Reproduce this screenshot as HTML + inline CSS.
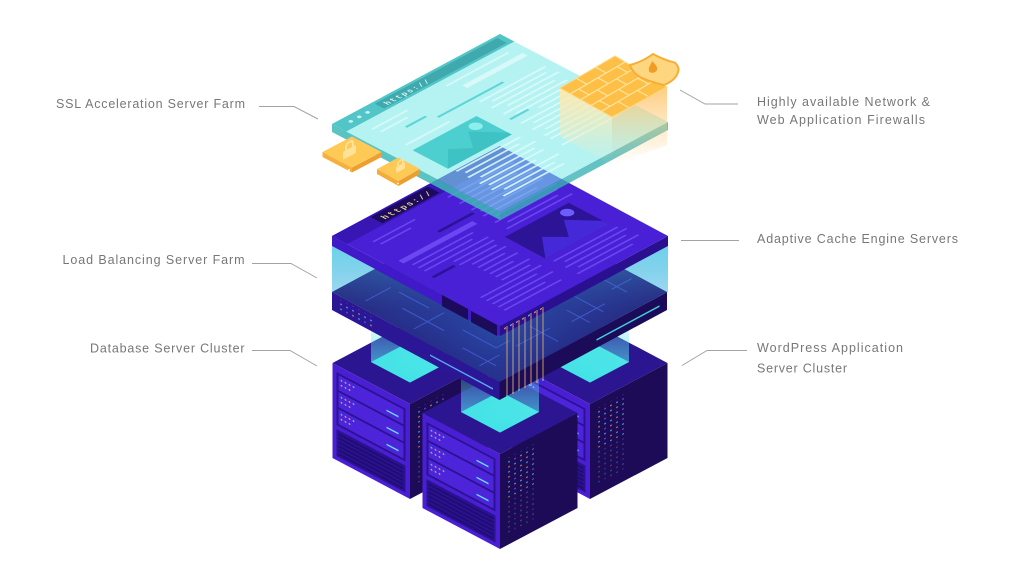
<!DOCTYPE html>
<html><head><meta charset="utf-8"><style>
html,body{margin:0;padding:0;background:#fff;}
svg{display:block;}
.lb{font-family:"Liberation Sans",sans-serif;font-size:12.5px;fill:#777;}
</style></head><body>
<svg width="1024" height="572" viewBox="0 0 1024 572" xmlns="http://www.w3.org/2000/svg">
<defs>
<linearGradient id="cy" x1="0" y1="0" x2="1" y2="1"><stop offset="0" stop-color="#2ce0dc"/><stop offset="1" stop-color="#5af0ea"/></linearGradient>
<linearGradient id="pg" x1="0" y1="0" x2="0" y2="1"><stop offset="0" stop-color="#5fe3ee" stop-opacity="0"/><stop offset="0.5" stop-color="#5fe3ee" stop-opacity="0.3"/><stop offset="1" stop-color="#3ee0e6" stop-opacity="0.85"/></linearGradient>
<linearGradient id="glow" x1="0" y1="0" x2="0" y2="1"><stop offset="0" stop-color="#8cf0f4" stop-opacity="0.8"/><stop offset="0.35" stop-color="#9af0f4" stop-opacity="0.6"/><stop offset="1" stop-color="#9af0f4" stop-opacity="0.2"/></linearGradient>
<linearGradient id="glow2" x1="0" y1="0" x2="0" y2="1"><stop offset="0" stop-color="#40b8e0" stop-opacity="0.55"/><stop offset="0.45" stop-color="#3a80d8" stop-opacity="0.2"/><stop offset="0.8" stop-color="#3a80d8" stop-opacity="0"/></linearGradient>
<radialGradient id="slabg" cx="500" cy="330" r="170" gradientUnits="userSpaceOnUse"><stop offset="0" stop-color="#2b62c4" stop-opacity=".6"/><stop offset=".6" stop-color="#2a48b0" stop-opacity=".3"/><stop offset="1" stop-color="#2a48b0" stop-opacity="0"/></radialGradient>
<linearGradient id="fwl" x1="0" y1="0" x2="0" y2="1"><stop offset="0" stop-color="#ffe9ad" stop-opacity=".95"/><stop offset="1" stop-color="#ffe9ad" stop-opacity="0"/></linearGradient>
<linearGradient id="fwr" x1="0" y1="0" x2="0" y2="1"><stop offset="0" stop-color="#ffc672" stop-opacity=".9"/><stop offset="1" stop-color="#ffd38a" stop-opacity="0"/></linearGradient>
<pattern id="dots" width="18" height="10" patternUnits="userSpaceOnUse">
 <circle cx="3" cy="2.5" r="0.8" fill="#e9a05c"/><circle cx="9" cy="2.5" r="0.8" fill="#4fd0e6"/><circle cx="15" cy="2.5" r="0.8" fill="#7a5cf0"/>
 <circle cx="3" cy="7.5" r="0.8" fill="#4fd0e6"/><circle cx="9" cy="7.5" r="0.8" fill="#e9a05c"/><circle cx="15" cy="7.5" r="0.8" fill="#4fd0e6"/>
</pattern>
<g id="bay">
 <rect x="6" y="0" width="65" height="15" fill="#4d24da"/>
 <circle cx="9" cy="4" r="0.9" fill="#4fd0e6"/><circle cx="13" cy="4" r="0.9" fill="#e9a05c"/><circle cx="17" cy="4" r="0.9" fill="#e9a05c"/><circle cx="21" cy="4" r="0.9" fill="#4fd0e6"/>
 <circle cx="9" cy="9" r="0.9" fill="#e9a05c"/><circle cx="13" cy="9" r="0.9" fill="#4fd0e6"/><circle cx="17" cy="9" r="0.9" fill="#e9a05c"/>
 <rect x="54" y="9" width="12" height="1.6" fill="#62def0"/>
</g>
<g id="srv">
 <polygon points="-77.5,0 0,-41 77.5,0 0,41" fill="#2c1591"/>
 <g transform="matrix(1,0.529,0,1,-77.5,0)">
  <rect width="77.5" height="95" fill="#4a1fd3"/>
  <rect x="4" y="7" width="69" height="53" fill="#2a1290"/>
  <use href="#bay" y="9"/><use href="#bay" y="26"/><use href="#bay" y="43"/>
  <rect x="4" y="64" width="69" height="27" fill="#2a1290"/>
  <rect x="6" y="67" width="65" height="2" fill="#200c72"/><rect x="6" y="71" width="65" height="2" fill="#200c72"/><rect x="6" y="75" width="65" height="2" fill="#200c72"/><rect x="6" y="79" width="65" height="2" fill="#200c72"/><rect x="6" y="83" width="65" height="2" fill="#200c72"/><rect x="6" y="87" width="65" height="2" fill="#200c72"/>
 </g>
 <g transform="matrix(1,-0.529,0,1,0,41)">
  <rect width="77.5" height="95" fill="#1d0b57"/>
  <rect x="6" y="8" width="30" height="40" fill="url(#dots)"/>
  <rect x="6" y="48" width="30" height="35" fill="url(#dots)" opacity=".45"/>
 </g>
 <polygon points="-39,-1 0,-21.5 39,-1 0,19.5" fill="url(#cy)"/>
</g>
<polygon id="prism" points="-39,-1 0,19.5 39,-1 39,-61 0,-81.5 -39,-61" fill="url(#pg)"/>
</defs>

<!-- leader lines -->
<g fill="none" stroke="#a3a3a3" stroke-width="1">
<polyline points="259,106.5 294,106.5 318,119"/>
<polyline points="680,90 705,104 738,104"/>
<polyline points="252,263.5 291,263.5 317,278"/>
<polyline points="252,350.5 290,350.5 317,366"/>
<polyline points="681,240.5 739,240.5"/>
<polyline points="682,365.5 707,350.5 747,350.5"/>
</g>
<!-- labels -->
<text class="lb" x="56" y="108" textLength="189" lengthAdjust="spacing">SSL Acceleration Server Farm</text>
<text class="lb" x="62.5" y="264" textLength="182" lengthAdjust="spacing">Load Balancing Server Farm</text>
<text class="lb" x="90" y="352.5" textLength="154.5" lengthAdjust="spacing">Database Server Cluster</text>
<text class="lb" x="757" y="106" textLength="173" lengthAdjust="spacing">Highly available Network &amp;</text>
<text class="lb" x="757" y="124" textLength="168" lengthAdjust="spacing">Web Application Firewalls</text>
<text class="lb" x="757" y="243" textLength="201" lengthAdjust="spacing">Adaptive Cache Engine Servers</text>
<text class="lb" x="757" y="352" textLength="146" lengthAdjust="spacing">WordPress Application</text>
<text class="lb" x="757" y="372.5" textLength="90" lengthAdjust="spacing">Server Cluster</text>

<!-- servers -->
<use href="#srv" transform="translate(410,363)"/>
<use href="#srv" transform="translate(590,363)"/>
<use href="#prism" transform="translate(410,363)"/>
<use href="#prism" transform="translate(590,363)"/>
<use href="#srv" transform="translate(500,413)"/>
<use href="#prism" transform="translate(500,413)"/>

<!-- glow behind slab (visible at corners) -->
<polygon points="332,246 500,336 668,246 668,292 500,382 332,292" fill="url(#glow)"/>

<!-- slab -->
<polygon points="332,292 499.5,202 667,292 499.5,382" fill="#211468"/>
<polygon points="332,292 499.5,202 667,292 499.5,382" fill="url(#slabg)"/>
<polygon points="332,292 499.5,382 499.5,400 332,310" fill="#2b1796"/>
<polygon points="499.5,382 667,292 667,310 499.5,400" fill="#1b0b58"/>
<g transform="matrix(1.675,-0.9,1.675,0.9,332,292)" fill="none" stroke="#4a62dc" stroke-width="0.6" opacity="0.75">
<path d="M5 15 H20 M12 30 V55 M4 45 H22 M18 60 V80 H26 M8 70 V90 M25 85 H45 M40 78 V95 M55 88 H75 M70 75 V92 M85 82 H97 M3 85 H15 M20 20 V38 M60 80 V94 M88 74 V88"/>
</g>
<g transform="matrix(1,0.536,0,1,332,292)">
 <rect x="4" y="3" width="36" height="11" fill="url(#dots)"/>
 <rect x="98" y="9.8" width="63" height="1.6" fill="#5aa8f2"/>
</g>
<g transform="matrix(1,-0.537,0,1,499.5,382)">
 <rect x="97" y="9.2" width="63" height="1.6" fill="#3ed2e0"/>
</g>

<!-- teal glow on slab top near the panel -->
<polygon points="332,246 500,336 668,246 668,292 500,382 332,292" fill="url(#glow2)"/>

<!-- purple panel -->
<polygon points="332,236 500,326 500,336 332,246" fill="#4019c8"/>
<polygon points="500,326 668,236 668,246 500,336" fill="#2a0f90"/>
<polygon points="332,236 500,146 668,236 500,326" fill="#4920d6"/>
<polygon points="442,295 468,309 468,320 442,306" fill="#1c0a5a"/>
<polygon points="471,311 497,325 497,336 471,322" fill="#1c0a5a"/>
<g transform="matrix(1,-0.536,0,1,500,326)">
 <circle cx="5" cy="5" r="0.9" fill="#e9a05c"/><circle cx="11" cy="5" r="0.9" fill="#4fd0e6"/><circle cx="17" cy="5" r="0.9" fill="#e9a05c"/><circle cx="23" cy="5" r="0.9" fill="#e9a05c"/><circle cx="29" cy="5" r="0.9" fill="#4fd0e6"/><circle cx="35" cy="5" r="0.9" fill="#e9a05c"/><circle cx="41" cy="5" r="0.9" fill="#e9a05c"/>
</g>
<g transform="matrix(1.68,-0.9,1.68,0.9,332,236)">
 <rect x="0" y="0" width="100" height="9" fill="#3716b4"/>
 <rect x="22" y="1" width="34" height="7" fill="#1c0a5e"/>
 <text x="25" y="6.6" font-family="Liberation Mono, monospace" font-weight="bold" font-size="4.6" letter-spacing="0.9" fill="#e9d08a">https://</text>
 <g fill="none" stroke="#6a47f0" stroke-width="1">
  <path d="M9 15.5 H34 M10 19 H28"/>
  <path d="M6 35 H50" stroke-width="3"/>
  <path d="M8 40 H44 M8 43.5 H40 M8 47 H46 M22 50.5 H46 M22 54 H44 M26 57.5 H46 M26 61 H42 M26 64.5 H46 M26 68 H40 M26 71.5 H46 M26 75 H43 M10 78.5 H46 M10 82 H40 M10 85.5 H46 M10 89 H38 M10 92.5 H44"/>
  <path d="M56 13 H95 M62 16.5 H95 M56 20 H90 M60 23.5 H96 M56 27 H92 M58 30.5 H95 M56 34 H88 M60 37.5 H96 M56 41 H93 M60 44.5 H90 M56 48 H95"/>
  <path d="M52 80 H90 M55 83.5 H92 M52 87 H88 M56 90.5 H92 M52 94 H85"/>
 </g>
 <path d="M34 29.3 H55 M7 53 H20" stroke="#2b1398" stroke-width="1.6" fill="none"/>
 <rect x="51" y="52" width="38" height="24" fill="#2d1396"/>
 <polygon points="51,76 62,63 70,71 78,60 89,72 89,76" fill="#4528d8"/>
 <circle cx="83" cy="57" r="3" fill="#6a5cff"/>
</g>

<!-- wires -->
<g stroke-width="0.9" fill="none">
<line x1="507" y1="326" x2="507" y2="396" stroke="#e2a860"/>
<line x1="513" y1="323" x2="513" y2="393" stroke="#d6b07a"/>
<line x1="519" y1="320" x2="519" y2="390" stroke="#e2a860"/>
<line x1="525" y1="317" x2="525" y2="387" stroke="#d6b07a"/>
<line x1="531" y1="313" x2="531" y2="385" stroke="#e2a860"/>
<line x1="537" y1="310" x2="537" y2="382" stroke="#d6b07a"/>
<line x1="543" y1="307" x2="543" y2="380" stroke="#e2a860"/>
</g>
<g>
<circle cx="507" cy="396" r="0.9" fill="#4fd0e6"/><circle cx="513" cy="393" r="0.9" fill="#e9a05c"/><circle cx="519" cy="390" r="0.9" fill="#4fd0e6"/><circle cx="525" cy="387" r="0.9" fill="#e9a05c"/><circle cx="531" cy="385" r="0.9" fill="#4fd0e6"/><circle cx="537" cy="382" r="0.9" fill="#e9a05c"/><circle cx="543" cy="380" r="0.9" fill="#4fd0e6"/>
</g>

<!-- glass panel -->
<polygon points="332,124 500,212 500,220 332,132" fill="#3fb8b8" opacity=".85"/>
<polygon points="500,212 668,122 668,130 500,220" fill="#3cb3b5" opacity=".8"/>
<polygon points="332,124 500,34 668,122 500,212" fill="#80eaea" opacity=".58"/>
<g transform="matrix(1.68,-0.9,1.68,0.88,332,124)">
 <rect x="0" y="0" width="100" height="8.5" fill="#4cc2c4" opacity=".95"/>
 <circle cx="7" cy="4.2" r="1" fill="#c9f3f3"/><circle cx="12" cy="4.2" r="1" fill="#c9f3f3"/><circle cx="17" cy="4.2" r="1" fill="#c9f3f3"/>
 <rect x="24" y="1.5" width="73" height="5.5" fill="#3fa9ad"/>
 <text x="27" y="6.1" font-family="Liberation Mono, monospace" font-weight="bold" font-size="4.2" letter-spacing="0.8" fill="#d9f6f6">https://</text>
 <g fill="none" stroke="#dcfafa" stroke-width="1.1" opacity=".9">
  <path d="M9 15 H30 M10 19 H26 M55 13 H92 M10 34 H36"/>
  <path d="M60 19 H96" stroke-width="3"/>
  <path d="M56 32 H95 M60 35.5 H92 M56 39 H96 M62 42.5 H90 M56 46 H94 M60 49.5 H96 M70 53 H92 M56 56.5 H95 M60 60 H90 M56 63.5 H94 M60 67 H96 M56 70.5 H88 M56 74 H92 M60 77.5 H95 M56 81 H90"/>
  <path d="M10 64 H48 M12 67.5 H44 M10 71 H50 M14 74.5 H46 M10 78 H48 M12 81.5 H40 M10 85 H50 M14 88.5 H44 M10 92 H46"/>
 </g>
 <path d="M35 28 H74 M55 51 H66 M20 24 H32" stroke="#5dd5d8" stroke-width="1.3" fill="none"/>
 <rect x="9" y="39" width="38" height="21" fill="#4dcfcf"/>
 <polygon points="9,60 20,49 28,56 36,45 47,58 47,60" fill="#3ec2c4"/>
 <circle cx="41" cy="44.5" r="3" fill="#8eeeee"/>
</g>

<!-- lock card 2 -->
<polygon points="377,169 398.5,181 398.5,186 377,174" fill="#f4ad3a"/>
<polygon points="398.5,181 420,169 420,174 398.5,186" fill="#eb9f2e"/>
<polygon points="377,169 398.5,157.5 420,169 398.5,181" fill="#ffc955"/>
<g transform="translate(401,167) skewY(-28)" fill="#ffe39a"><rect x="-5" y="-2.5" width="9" height="6" rx="1"/><path d="M-3,-2.5 V-4.5 A2.5,2.5 0 0 1 2,-4.5 V-2.5" fill="none" stroke="#ffe39a" stroke-width="1.5"/></g>
<circle cx="398" cy="183.5" r="0.9" fill="#fff"/>

<!-- lock card 1 -->
<polygon points="322.5,152 352,167.5 352,172.5 322.5,157" fill="#f5b03d"/>
<polygon points="352,167.5 381.5,152 381.5,157 352,172.5" fill="#eca02f"/>
<polygon points="322.5,152 352,136.5 381.5,152 352,167.5" fill="#ffc955"/>
<g transform="translate(350,151) skewY(-28)" fill="#ffe39a"><rect x="-7" y="-3" width="13" height="8" rx="1"/><path d="M-4,-3 V-6 A3.5,3.5 0 0 1 3,-6 V-3" fill="none" stroke="#ffe39a" stroke-width="2"/></g>
<circle cx="349" cy="170" r="1" fill="#fff"/>

<!-- firewall -->
<polygon points="560,88 612,117 612,165 560,136" fill="url(#fwl)"/>
<polygon points="612,117 667,87 667,145 612,165" fill="url(#fwr)"/>
<polygon points="560,88 615,56 667,87 612,117" fill="#fdbf45" stroke="#ffd985" stroke-width="1"/>
<g transform="matrix(0.55,-0.32,0.52,0.29,560,88)" fill="none" stroke="#ffe4a0" stroke-width="1.2">
<path vector-effect="non-scaling-stroke" d="M0 20 H100 M0 40 H100 M0 60 H100 M0 80 H100 M30 0 V20 M65 0 V20 M15 20 V40 M50 20 V40 M85 20 V40 M30 40 V60 M65 40 V60 M15 60 V80 M50 60 V80 M85 60 V80 M30 80 V100 M65 80 V100"/>
</g>
<path d="M630,65 Q642,62 653,54 Q664,60 675,62.7 Q680,68 678,72 Q676,80 664,85 Q650,82 640,77 Q632,72 630,65 Z" fill="#ffd680" stroke="#f6ae35" stroke-width="2"/>
<path d="M652,61 C655,64 658,67 657,70 C656,73 650,74 649,71 C648,67 651,65 652,61 Z" fill="#f29c24"/>
</svg>
</body></html>
